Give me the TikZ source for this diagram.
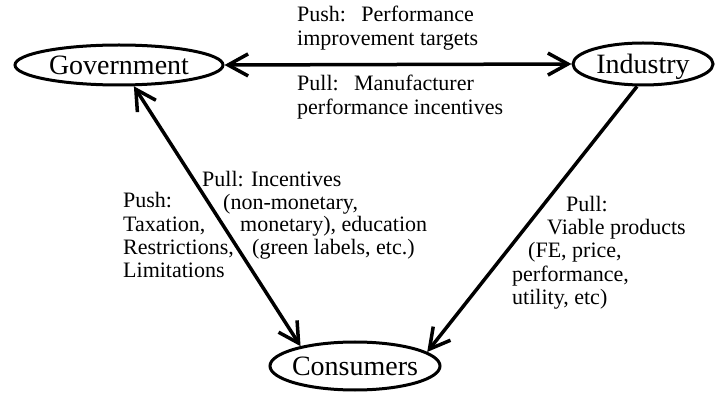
\documentclass[tikz,border=0pt]{standalone}
\usepackage{fontspec}
\setmainfont{Liberation Serif}
\usetikzlibrary{arrows.meta,shapes.geometric}
\tikzset{
  ent/.style={ellipse, draw, line width=3pt, inner sep=0pt, text height=19pt, text depth=0pt,
              font=\fontsize{28}{30}\selectfont},
  lbl/.style={anchor=base west, inner sep=0pt, font=\fontsize{22}{24}\selectfont},
  link/.style={line width=3.5pt},
  >={Straight Barb[length=20pt,width=22pt]}
}
\begin{document}
\begin{tikzpicture}[x=1pt,y=-1pt]
\useasboundingbox (0,0) rectangle (715,395);
% entities
\node[ent, minimum width=208pt, minimum height=40pt] (gov) at (119,65) {Government};
\node[ent, minimum width=140pt, minimum height=42pt] (ind) at (643,64) {Industry};
\node[ent, minimum width=170pt, minimum height=48pt, inner xsep=-4pt] (cons) at (355,366) {Consumers};
% connectors
\draw[link,<->] (gov.east) -- (ind.west);
\draw[link,<->] (gov.-55) -- (cons.160);
\draw[link,->] (ind.-105) -- (cons.11);
% top labels
\node[lbl] (t1) at (297,22) {Push:\hspace{0.7em}Performance};
\node[lbl] (t2) at (297,46) {improvement targets};
\node[lbl] (t3) at (297,91) {Pull:\hspace{0.7em}Manufacturer};
\node[lbl] (t4) at (297,115) {performance incentives};
% left push labels
\node[lbl] (l1) at (123,208) {Push:};
\node[lbl] (l2) at (123,232) {Taxation,};
\node[lbl] (l3) at (123,255) {Restrictions,};
\node[lbl] (l4) at (123,278) {Limitations};
% pull incentives labels
\node[lbl] (p1) at (202,187) {Pull: Incentives};
\node[lbl] (p2) at (223,210) {(non-monetary,};
\node[lbl] (p3) at (240,232) {monetary), education};
\node[lbl] (p4) at (252,255) {(green labels, etc.)};
% right labels
\node[lbl] (r1) at (566,212) {Pull:};
\node[lbl] (r2) at (547,235) {Viable products};
\node[lbl] (r3) at (528,258) {(FE, price,};
\node[lbl] (r4) at (512,282) {performance,};
\node[lbl] (r5) at (512,305) {utility, etc)};
\end{tikzpicture}
\end{document}
